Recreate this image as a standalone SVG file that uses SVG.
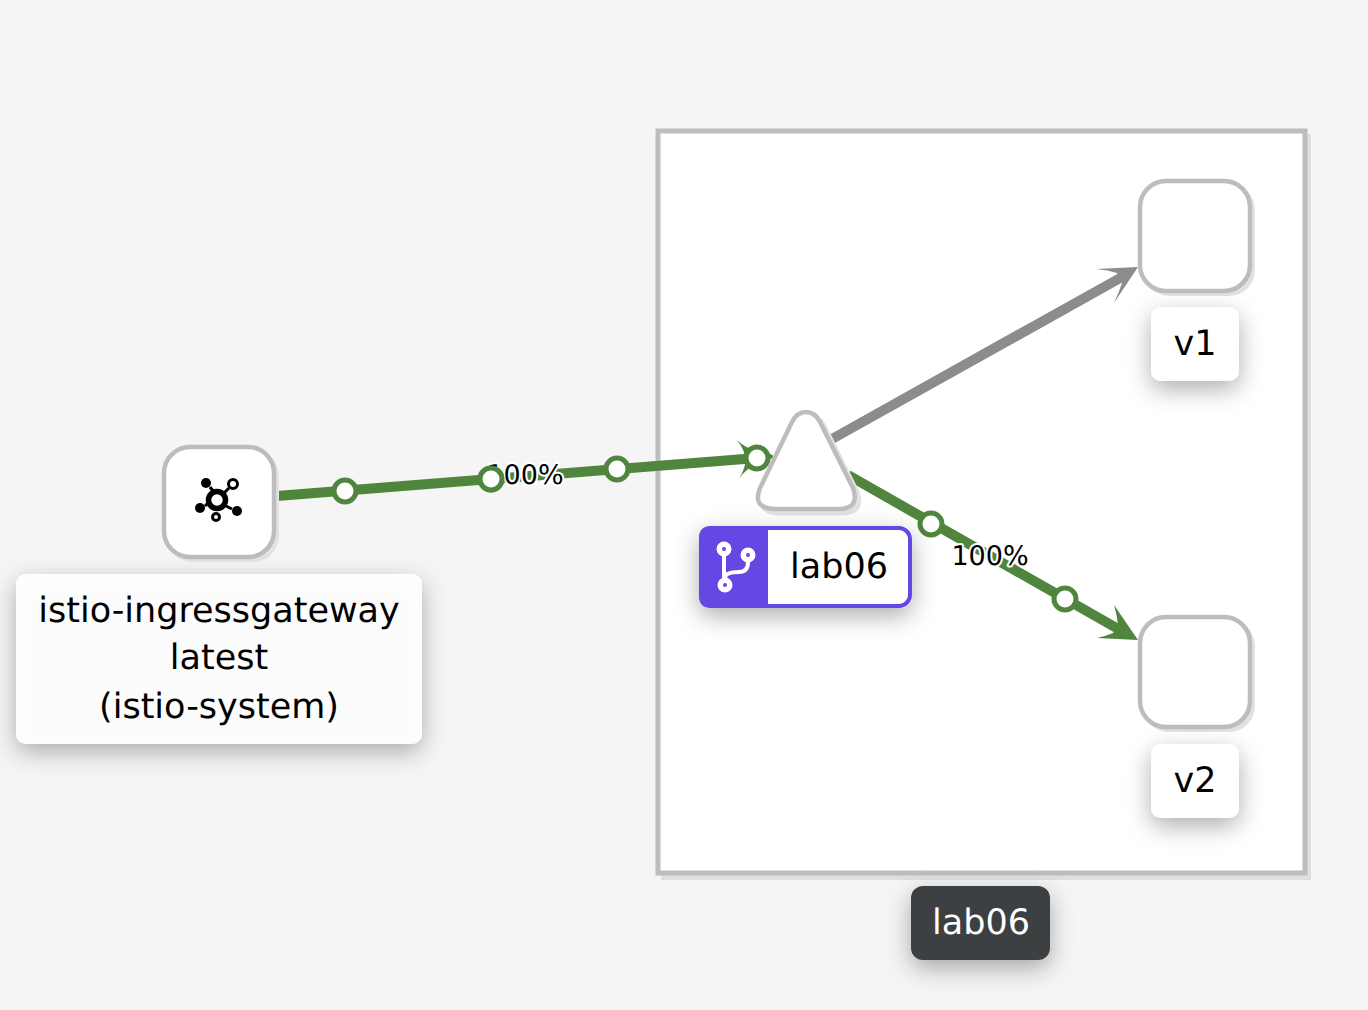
<svg xmlns="http://www.w3.org/2000/svg" width="1368" height="1010" viewBox="0 0 1368 1010">
<style>
text{font-family:"DejaVu Sans",sans-serif;fill:#000;text-anchor:middle;text-rendering:geometricPrecision}
.lbl{font-size:35px}
.edge{font-size:27px;paint-order:stroke;stroke:#fff;stroke-width:4px;stroke-linejoin:round}
.node{fill:#fff;stroke:#bdbdbd;stroke-width:4.500px}
.nodeshadow{fill:#e2e2e2}
.dot{fill:#fff;stroke:#4f853c;stroke-width:5px}
.g{stroke:#4f853c;stroke-width:10px;fill:none}
.ag{fill:#4f853c}
</style>
<defs>
<filter id="sh" x="-40%" y="-40%" width="180%" height="190%"><feDropShadow dx="0" dy="8" stdDeviation="12" flood-color="#000" flood-opacity="0.32"/></filter>
</defs>
<rect width="1368" height="1010" fill="#f5f5f5"/>
<g id="box-lab06">
<rect x="661" y="134" width="650" height="746" fill="#dfdfdf"/>
<rect x="658" y="131" width="647" height="742" fill="#fff" stroke="#bdbdbd" stroke-width="5"/>
</g>
<g id="connectors">
<path class="g" d="M277 496L757 458"/>
<path class="ag" d="M737 440Q746 449 757 450Q768 452 775 457Q766 461 757 465Q746 468 739 479Q745 469 746 459Q744 449 737 440Z"/>
<path d="M832 439L1122 277" stroke="#8c8c8e" stroke-width="10" fill="none"/>
<path d="M1096 269L1138 267L1114 303Q1119 292 1122 283L1117 273Q1108 270 1096 269Z" fill="#8c8c8e"/>
<path class="g" d="M848 475L1120 630"/>
<path class="ag" d="M1114 605L1138 640L1097 638Q1106 636 1113 633L1118 625Q1117 615 1114 605Z"/>
<circle class="dot" cx="345" cy="491" r="11"/>
<circle class="dot" cx="491" cy="479" r="11"/>
<circle class="dot" cx="617" cy="469" r="11"/>
<circle class="dot" cx="757" cy="458" r="11"/>
<circle class="dot" cx="931" cy="524" r="11"/>
<circle class="dot" cx="1065" cy="599" r="11"/>
</g>
<g id="label-edge-1"><text class="edge" x="525" y="484">100%</text></g>
<circle class="dot" cx="491" cy="479" r="11"/>
<g id="label-edge-2"><text class="edge" x="990" y="565">100%</text></g>
<g id="node-gateway">
<rect class="nodeshadow" x="167" y="450" width="112" height="112" rx="26"/>
<rect class="node" x="164" y="447" width="110" height="110" rx="26"/>
<g fill="#000">
<circle cx="206" cy="483" r="5"/><circle cx="200" cy="508" r="5"/><circle cx="237" cy="511" r="5"/>
<path d="M210 487L213 491M205 506L208 503M232 509L226 506M229 488L224 493" stroke="#000" stroke-width="3"/>
<circle cx="217" cy="500" r="8.500" fill="#fff" stroke="#000" stroke-width="5.500"/>
<circle cx="233" cy="484" r="4.500" fill="#fff" stroke="#000" stroke-width="3"/>
<circle cx="216" cy="517" r="3.500" fill="#fff" stroke="#000" stroke-width="3"/>
</g>
</g>
<g id="label-gateway">
<rect x="16" y="574" width="406" height="170" rx="10" fill="#fff" fill-opacity="0.93" filter="url(#sh)"/>
<text class="lbl" x="219" y="622">istio-ingressgateway</text>
<text class="lbl" x="219" y="669">latest</text>
<text class="lbl" x="219" y="718">(istio-system)</text>
</g>
<g id="node-service">
<path d="M806 412Q815 412 820 422L853 488Q860 508 840 509H774Q752 508 760 488L792 422Q797 412 806 412Z" fill="#e2e2e2" stroke="#e2e2e2" stroke-width="5" transform="translate(4,4)"/>
<path class="node" d="M806 412Q815 412 820 422L853 488Q860 508 840 509H774Q752 508 760 488L792 422Q797 412 806 412Z"/>
</g>
<g id="label-service">
<rect x="699" y="526" width="213" height="82" rx="12" fill="#fff" filter="url(#sh)"/>
<path d="M768 526H711Q699 526 699 538V596Q699 608 711 608H768Z" fill="#6747e4"/>
<rect x="701" y="528" width="209" height="78" rx="11" fill="none" stroke="#6747e4" stroke-width="4"/>
<g fill="none" stroke="#fff" stroke-width="4">
<path d="M724 556V578M748 562Q748 572 739 572Q725 572 725 578"/>
</g>
<circle cx="724" cy="549" r="6.500" fill="#fff" stroke="#fff" stroke-width="2"/><circle cx="724" cy="549" r="2" fill="#6747e4"/>
<circle cx="748" cy="555" r="6.500" fill="#fff" stroke="#fff" stroke-width="2"/><circle cx="748" cy="555" r="2" fill="#6747e4"/>
<circle cx="725" cy="585" r="6.500" fill="#fff" stroke="#fff" stroke-width="2"/><circle cx="725" cy="585" r="2" fill="#6747e4"/>
<text class="lbl" x="839" y="578">lab06</text>
</g>
<g id="node-v1">
<rect class="nodeshadow" x="1143" y="184" width="112" height="112" rx="26"/>
<rect class="node" x="1140" y="181" width="110" height="110" rx="26"/>
</g>
<g id="label-v1">
<rect x="1151" y="307" width="88" height="74" rx="10" fill="#fff" filter="url(#sh)"/>
<text class="lbl" x="1195" y="355">v1</text>
</g>
<g id="node-v2">
<rect class="nodeshadow" x="1143" y="620" width="112" height="112" rx="26"/>
<rect class="node" x="1140" y="617" width="110" height="110" rx="26"/>
</g>
<g id="label-v2">
<rect x="1151" y="744" width="88" height="74" rx="10" fill="#fff" filter="url(#sh)"/>
<text class="lbl" x="1195" y="792">v2</text>
</g>
<g id="label-box">
<rect x="911" y="886" width="139" height="74" rx="12" fill="#3c3f42" filter="url(#sh)"/>
<text class="lbl" x="981" y="934" style="fill:#fff">lab06</text>
</g>
</svg>
